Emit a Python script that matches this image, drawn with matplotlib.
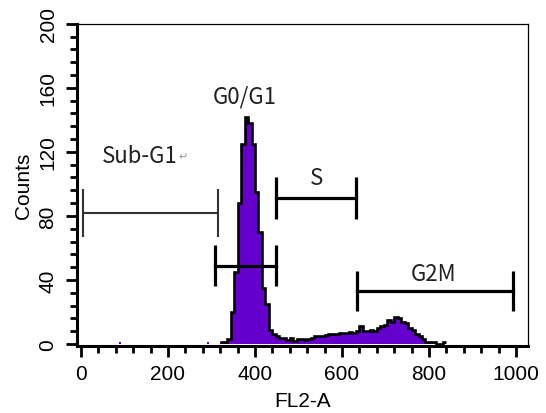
import matplotlib.pyplot as plt
import numpy as np
from matplotlib.ticker import MultipleLocator

# histogram: 8-unit channels starting at 320
bin_start = 320
bin_width = 8
counts = [1, 1.5, 3, 20, 45, 88, 125, 142, 138, 125, 95, 70, 35, 25, 9, 6,
          5, 4, 3.5, 2.5, 3.5, 2, 3, 3, 2.5, 3, 4, 5, 5, 5, 5.5, 6,
          6, 6.5, 7, 7, 7, 7.5, 7, 8, 11, 8, 8, 8.5, 8, 10, 11, 12,
          15, 14, 17, 16, 14, 13, 10, 9, 6, 5, 3, 1.5, 1, 1, 0, 0, 1]

# stray single events
dot_x = [90, 292]
dot_y = [1.5, 1.5]

# gates: name, left, right, y level
gate_names = ["Sub-G1", "G0/G1", "S", "G2M"]
gate_left = [5, 307, 448, 634]
gate_right = [316, 448, 632, 994]
gate_y = [82, 49, 91, 33]
gate_cap = [15, 13, 13, 12.5]

# label positions
label_x = [47, 377, 542, 810]
label_y = [118, 155, 104, 44]

purple = "#6600cc"

fig = plt.figure(figsize=(5.46, 4.14), dpi=100)
ax = fig.add_axes([0.141, 0.162, 0.826, 0.778])

edges = bin_start + bin_width * np.arange(len(counts) + 1)
ax.stairs(counts, edges, fill=True, color=purple, zorder=2)
ax.stairs(counts, edges, baseline=None, color="black", linewidth=1.9, zorder=3)
ax.bar(dot_x, dot_y, width=6, color=purple, zorder=2)

for i in range(len(gate_names)):
    lw = 1.5 if i == 0 else 2.3
    col = "#333333" if i == 0 else "black"
    ax.plot([gate_left[i], gate_right[i]], [gate_y[i], gate_y[i]], color=col, linewidth=lw, zorder=4)
    ax.vlines([gate_left[i], gate_right[i]], gate_y[i] - gate_cap[i], gate_y[i] + gate_cap[i],
              color=col, linewidth=lw, zorder=4)

lab_font = ["Noto Sans CJK SC", "DejaVu Sans"]
sub = ax.text(label_x[0], label_y[0], gate_names[0], family=lab_font, fontsize=16,
              color="#222222", ha="left", va="center")
ax.annotate("\u21b5", xy=(1, 0.5), xycoords=sub, xytext=(1, -1), textcoords="offset points",
            family=["DejaVu Sans"], fontsize=8, color="#999999", ha="left", va="center")
for i in range(1, len(gate_names)):
    ax.text(label_x[i], label_y[i], gate_names[i], family=lab_font, fontsize=16,
            color="#222222", ha="center", va="center")

ax.set_xlim(-9.2, 1027.6)
ax.set_ylim(-1.25, 200)

ax.xaxis.set_major_locator(MultipleLocator(200))
ax.xaxis.set_minor_locator(MultipleLocator(40))
ax.yaxis.set_major_locator(MultipleLocator(40))
ax.yaxis.set_minor_locator(MultipleLocator(8))

ax.spines["left"].set_linewidth(2.2)
ax.spines["bottom"].set_linewidth(2.2)
ax.spines["top"].set_linewidth(0.9)
ax.spines["right"].set_linewidth(0.9)

ax.tick_params(axis="both", which="major", direction="out", length=8, width=2, labelsize=15)
ax.tick_params(axis="both", which="minor", direction="out", length=5, width=2)
ax.tick_params(axis="y", which="major", pad=6)
ax.tick_params(axis="x", which="major", pad=5)
for lab in ax.get_xticklabels() + ax.get_yticklabels():
    lab.set_family("Liberation Sans")
for lab in ax.get_yticklabels():
    lab.set_rotation(90)
    lab.set_va("center")

ax.set_xlabel("FL2-A", family="Liberation Sans", fontsize=15, labelpad=6)
ax.set_ylabel("Counts", family="Liberation Sans", fontsize=15, labelpad=4)

fig.savefig("out.png", dpi=100)
